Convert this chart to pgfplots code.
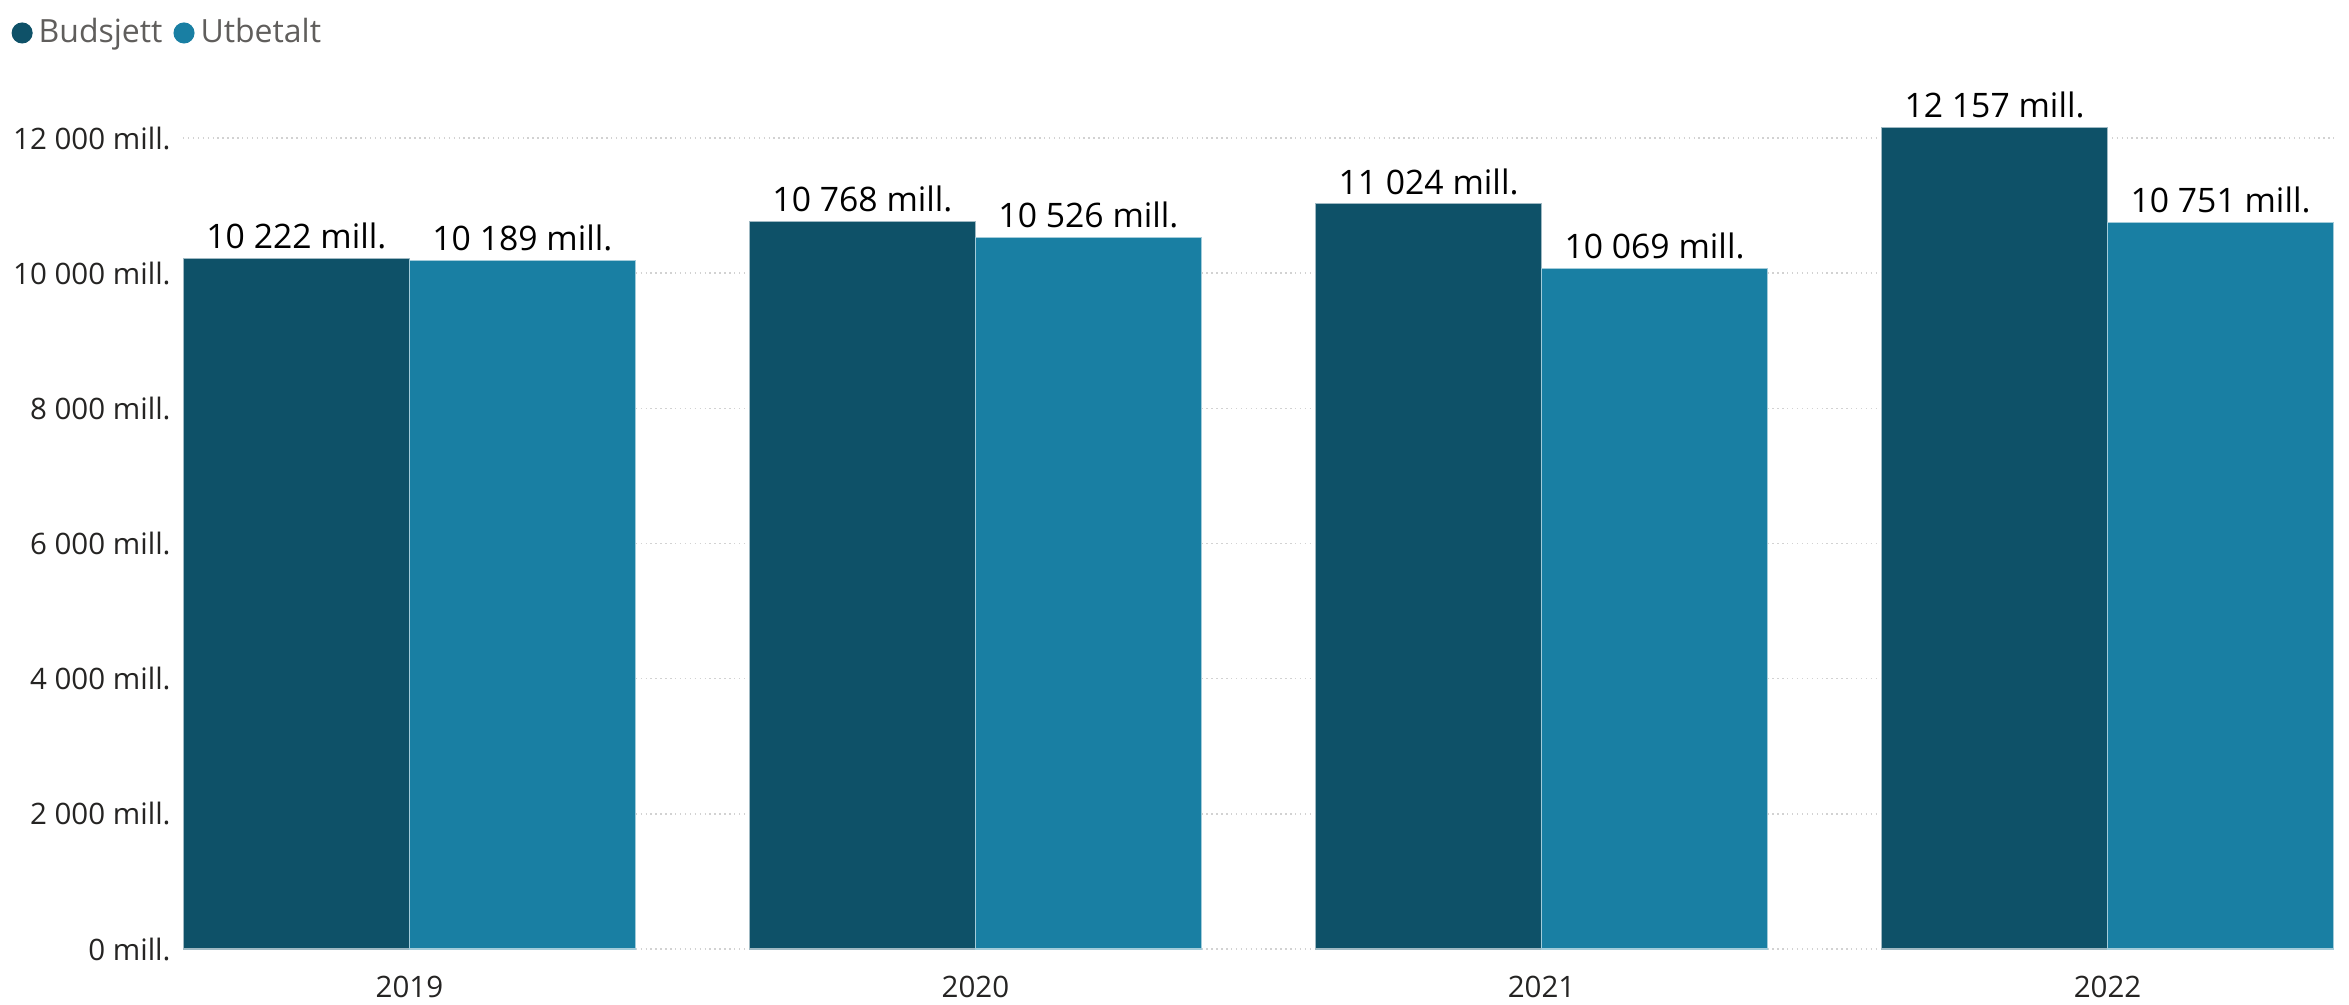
\documentclass[border=0pt]{standalone}
\usepackage{fontspec}
\setmainfont{Open Sans}
\usepackage{pgfplots}
\pgfplotsset{compat=1.18}
\definecolor{budsjett}{HTML}{0E5168}
\definecolor{utbetalt}{HTML}{197FA3}
\definecolor{ticktxt}{HTML}{252423}
\definecolor{legtxt}{HTML}{605E5C}
\begin{document}
\begin{tikzpicture}
\begin{axis}[
    scale only axis,
    width=21.51cm, height=8.11cm,
    ybar=0pt, bar width=2.26cm,
    xmin=-0.4, xmax=3.4,
    ymin=0, ymax=12000,
    scaled y ticks=false,
    clip=false,
    axis line style={draw=none},
    tick style={draw=none},
    xtick={0,1,2,3},
    xticklabels={2019,2020,2021,2022},
    ytick={0,2000,4000,6000,8000,10000,12000},
    yticklabels={0 mill.,2 000 mill.,4 000 mill.,6 000 mill.,8 000 mill.,10 000 mill.,12 000 mill.},
    ticklabel style={font=\fontsize{8.4pt}{10pt}\selectfont, text=ticktxt},
    ymajorgrids,
    grid style={densely dotted, gray!35, line width=0.4pt},
    nodes near coords,
    point meta=explicit symbolic,
    every node near coord/.append style={font=\fontsize{9.6pt}{11.5pt}\selectfont, text=black, inner sep=2.5pt},
    legend columns=-1,
    legend style={draw=none, fill=none, inner sep=0pt, at={(-0.080,1.1295)}, anchor=west,
      font=\fontsize{9.1pt}{11pt}\selectfont, text=legtxt,
      nodes={inner sep=0.06cm},
      /tikz/every even column/.append style={column sep=0.05cm}},
]
\addplot[fill=budsjett, draw=white!60!budsjett, line width=0.3pt,
  legend image code/.code={\fill[budsjett] (0.1cm,0cm) circle (0.1cm);}]
  coordinates {(0,10222) [10 222 mill.] (1,10768) [10 768 mill.] (2,11024) [11 024 mill.] (3,12157) [12 157 mill.]};
\addplot[fill=utbetalt, draw=white!60!utbetalt, line width=0.3pt,
  legend image code/.code={\fill[utbetalt] (0.1cm,0cm) circle (0.1cm);}]
  coordinates {(0,10189) [10 189 mill.] (1,10526) [10 526 mill.] (2,10069) [10 069 mill.] (3,10751) [10 751 mill.]};
\legend{Budsjett,Utbetalt}
\end{axis}
\pgfresetboundingbox
\path (-1.83cm,-0.55cm) rectangle (21.66cm,9.49cm);
\end{tikzpicture}
\end{document}
